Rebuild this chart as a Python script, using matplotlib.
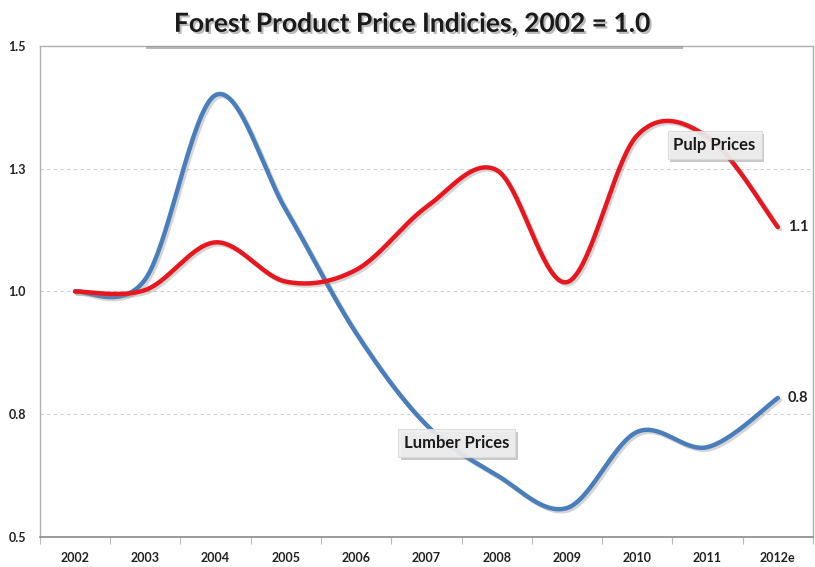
import matplotlib
matplotlib.use("Agg")
import matplotlib.pyplot as plt
import matplotlib.patheffects as pe
import numpy as np

# 数据
years = ["2002", "2003", "2004", "2005", "2006", "2007", "2008", "2009", "2010", "2011", "2012e"]
lumber = [1.00, 1.025, 1.40, 1.166, 0.915, 0.728, 0.626, 0.559, 0.714, 0.683, 0.783]
pulp = [1.00, 1.003, 1.10, 1.02, 1.044, 1.172, 1.247, 1.019, 1.318, 1.315, 1.131]
y_ticks = [0.5, 0.75, 1.0, 1.25, 1.5]
y_tick_labels = ["0.5", "0.8", "1.0", "1.3", "1.5"]

plt.rcParams['font.family'] = ['Lato', 'DejaVu Sans']


def smooth(xs, ys, n=40):
    """Excel 风格的平滑曲线 (Catmull-Rom -> Bezier)"""
    pts = np.column_stack([xs, ys]).astype(float)
    P = np.vstack([pts[0], pts, pts[-1]])
    t = np.linspace(0, 1, n)[:, None]
    out = []
    for i in range(1, len(P) - 2):
        p0, p1, p2, p3 = P[i - 1], P[i], P[i + 1], P[i + 2]
        c1 = p1 + (p2 - p0) / 6
        c2 = p2 - (p3 - p1) / 6
        seg = (1 - t) ** 3 * p1 + 3 * (1 - t) ** 2 * t * c1 + 3 * (1 - t) * t ** 2 * c2 + t ** 3 * p2
        out.append(seg if i == 1 else seg[1:])
    out = np.vstack(out)
    return out[:, 0], out[:, 1]


fig = plt.figure(figsize=(8.15, 5.67), dpi=100, facecolor='white')
ax = fig.add_axes([0.049, 0.053, 0.9485, 0.866])

x = np.arange(len(years))

# 网格线
for v in y_ticks[1:-1]:
    ax.axhline(v, color='#cfcfcf', lw=0.8, ls=(0, (3, 3)), zorder=1)

shadow = [pe.SimpleLineShadow(offset=(1.5, -1.5), shadow_color='#888888', alpha=0.35),
          pe.Normal()]

bx, by = smooth(x, lumber)
ax.plot(bx, by, color='#4a7ebb', lw=3.2, solid_capstyle='round', zorder=3, path_effects=shadow)
rx, ry = smooth(x, pulp)
ax.plot(rx, ry, color='#e8161e', lw=3.2, solid_capstyle='round', zorder=4, path_effects=shadow)

# 末端数值标签
for series in (lumber, pulp):
    ax.annotate(f"{series[-1]:.1f}", (x[-1], series[-1]), xytext=(7, 0),
                textcoords='offset points', ha='left', va='center',
                fontsize=10.5, fontweight='bold', color='#222222', zorder=6)


def boxed_label(text, xpos, ypos):
    t = ax.text(xpos, ypos, text, ha='center', va='center', fontsize=12,
                fontweight='bold', color='#1a1a1a', zorder=6,
                bbox=dict(boxstyle='square,pad=0.35', fc='#efefef', ec='#d9d9d9', lw=0.8, alpha=0.9))
    t.get_bbox_patch().set_path_effects(
        [pe.withSimplePatchShadow(offset=(2, -2), shadow_rgbFace='#888888', alpha=0.45)])


boxed_label("Lumber Prices", 5.43, 0.691)
boxed_label("Pulp Prices", 9.10, 1.298)

# 坐标轴
ax.set_xlim(-0.5, len(years) - 0.5)
ax.set_ylim(0.5, 1.5)
ax.set_yticks(y_ticks)
ax.set_yticklabels(y_tick_labels, fontsize=9, fontweight='bold', color='#222222')
ax.set_xticks(x)
ax.set_xticklabels(years, fontsize=9, fontweight='bold', color='#222222')
ax.set_xticks(np.arange(-0.5, len(years), 1.0), minor=True)
ax.tick_params(axis='x', which='major', length=0, pad=11)
ax.tick_params(axis='x', which='minor', length=5, color='#bbbbbb', width=0.8)
ax.tick_params(axis='y', length=0, pad=10)

for side in ['left', 'right', 'top']:
    ax.spines[side].set_color('#b0b0b0')
    ax.spines[side].set_linewidth(1.0)
ax.spines['bottom'].set_color('#8a8a8a')
ax.spines['bottom'].set_linewidth(1.2)

# 标题下方的灰色阴影条
fig.add_artist(plt.Line2D([0.18, 0.835], [0.917, 0.917], color='#9a9a9a', lw=2.2, alpha=0.7))

fig.text(0.505, 0.958, "Forest Product Price Indicies, 2002 = 1.0", ha='center', va='center',
         fontsize=19, fontweight='bold', color='#1a1a1a',
         path_effects=[pe.withSimplePatchShadow(offset=(1.5, -1.5), shadow_rgbFace='#777777', alpha=0.5)])

fig.savefig("out.png", dpi=100, facecolor='white')
